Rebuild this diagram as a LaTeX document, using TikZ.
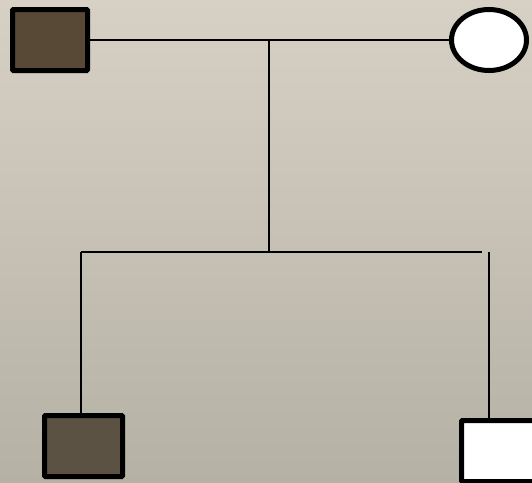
\documentclass[tikz,border=0pt]{standalone}
\usepackage{xcolor}
\usepackage{tikz}
\usetikzlibrary{positioning,shapes.geometric}
\definecolor{ped_brown}{RGB}{87,73,54}
\definecolor{ped_brown2}{RGB}{92,82,67}
\definecolor{bg_top}{RGB}{215,208,197}
\definecolor{bg_bot}{RGB}{181,177,165}

\begin{document}
\begin{tikzpicture}[x=1pt, y=-1pt,
    male/.style={draw=black, line width=5pt, rectangle, inner sep=0pt,
      minimum width=75pt, minimum height=61pt, rounded corners=1pt},
    female/.style={draw=black, line width=5pt, ellipse, inner sep=0pt,
      minimum width=75pt, minimum height=61pt, fill=white},
    link/.style={draw=black, line width=2pt}]
        % Background
        \useasboundingbox (0,0) rectangle (532,482);
        \clip (0,0) rectangle (532,482);
        \shade[top color=bg_top, bottom color=bg_bot] (0,0) rectangle (532,482);
        % Parents
        \node[male, fill=ped_brown] (dad) at (50,40) {};
        \node[female] (mom) at (489,40) {};
        % Children
        \node[male, fill=ped_brown2, minimum width=78pt] (son) at (83.5,446) {};
        \node[male, fill=white] (son2) at (499,451) {};
        % Lines of descent
        \coordinate (mate) at (269,40);
        \coordinate (sib) at (269,252);
        \coordinate (sibL) at (81,252);
        \coordinate (sibR) at (482,252);
        \coordinate (dropR) at (489,252);
        \draw[link] (dad.east) -- (mom.west);
        \draw[link] (mate) -- (sib);
        \draw[link] (sibL) -- (sibR);
        \draw[link] (sibL) -- (son.north -| sibL);
        \draw[link] (dropR) -- (son2.north -| dropR);
      \end{tikzpicture}
\end{document}
